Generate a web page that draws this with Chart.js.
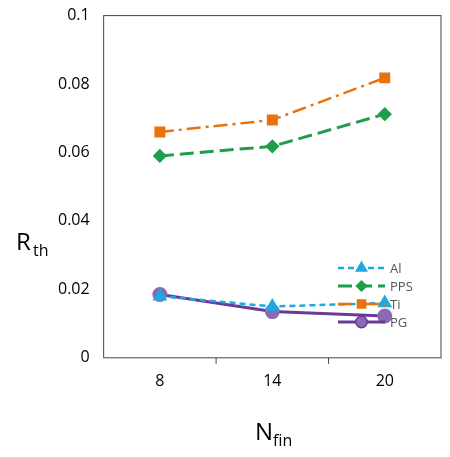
<!DOCTYPE html><html><head><script src="https://cdn.jsdelivr.net/npm/chart.js"></script>
<style>body{margin:0;background:#fff}#w{width:450px;height:457px}</style></head><body><div id="w"><canvas id="c"></canvas></div>
<script>
const categories=['8','14','20'];
const al=[0.018,0.015,0.016];
const pps=[0.059,0.0618,0.0712];
const ti=[0.066,0.0695,0.0818];
const pg=[0.0185,0.0135,0.0122];
const F='"Open Sans", sans-serif';
const ds=[
 {label:'Al',data:al,borderColor:'#1FA8E0',backgroundColor:'#1FA8E0',borderDash:[6,4],pointStyle:'triangle',pointRadius:6,borderWidth:2.5},
 {label:'PPS',data:pps,borderColor:'#1E9E4A',backgroundColor:'#1E9E4A',borderDash:[14,6],pointStyle:'rectRot',pointRadius:5,borderWidth:3},
 {label:'Ti',data:ti,borderColor:'#E8720C',backgroundColor:'#E8720C',borderDash:[14,5,3,5],pointStyle:'rect',pointRadius:6,borderWidth:2.5},
 {label:'PG',data:pg,borderColor:'#6A3A9A',backgroundColor:'#8A6AB0',pointStyle:'circle',pointRadius:6,borderWidth:3}
];
const extra={id:'extra',afterDraw(c){const x=c.ctx,a=c.chartArea;x.save();
x.strokeStyle='#444';x.lineWidth=1;x.strokeRect(a.left,a.top,a.right-a.left,a.bottom-a.top);
const w=(a.right-a.left)/3;x.beginPath();for(let i=1;i<3;i++){const xx=a.left+w*i;x.moveTo(xx,a.bottom);x.lineTo(xx,a.bottom+6);}x.stroke();
x.fillStyle='#000';x.font='24px '+F;x.textBaseline='alphabetic';
x.fillText('R',16,250);x.font='16px '+F;x.fillText('th',33,256);
x.font='24px '+F;x.fillText('N',255,440);x.font='16px '+F;x.fillText('fin',273,446);
x.font='13px '+F;
ds.forEach((d,i)=>{const y=268+i*18,x0=338,x1=385;x.strokeStyle=d.borderColor;x.lineWidth=d.borderWidth;x.setLineDash(d.borderDash||[]);
x.beginPath();x.moveTo(x0,y);x.lineTo(x1,y);x.stroke();x.setLineDash([]);
Chart.helpers.drawPoint(x,{pointStyle:d.pointStyle,radius:d.pointRadius-1,borderWidth:1},(x0+x1)/2,y);
x.fillStyle=d.backgroundColor;x.fill();
x.fillStyle='#555';x.fillText(d.label,x1+5,y+5);});
x.restore();}};
new Chart(document.getElementById('c'),{type:'line',data:{labels:categories,datasets:ds.map(d=>Object.assign({fill:false,tension:0,pointBorderColor:d.backgroundColor},d))},
options:{responsive:true,maintainAspectRatio:false,animation:false,
layout:{padding:{left:52,right:2,top:6,bottom:52}},
plugins:{legend:{display:false},tooltip:{enabled:false}},
scales:{x:{offset:true,grid:{display:false,drawTicks:false},border:{display:false},ticks:{color:'#000',font:{family:F,size:16},padding:14}},
y:{min:0,max:0.1,grid:{display:false},border:{display:false},ticks:{stepSize:0.02,color:'#000',font:{family:F,size:16},padding:6,callback:v=>v===0?'0':+v.toFixed(2)}}}},
plugins:[extra]});
</script></body></html>
